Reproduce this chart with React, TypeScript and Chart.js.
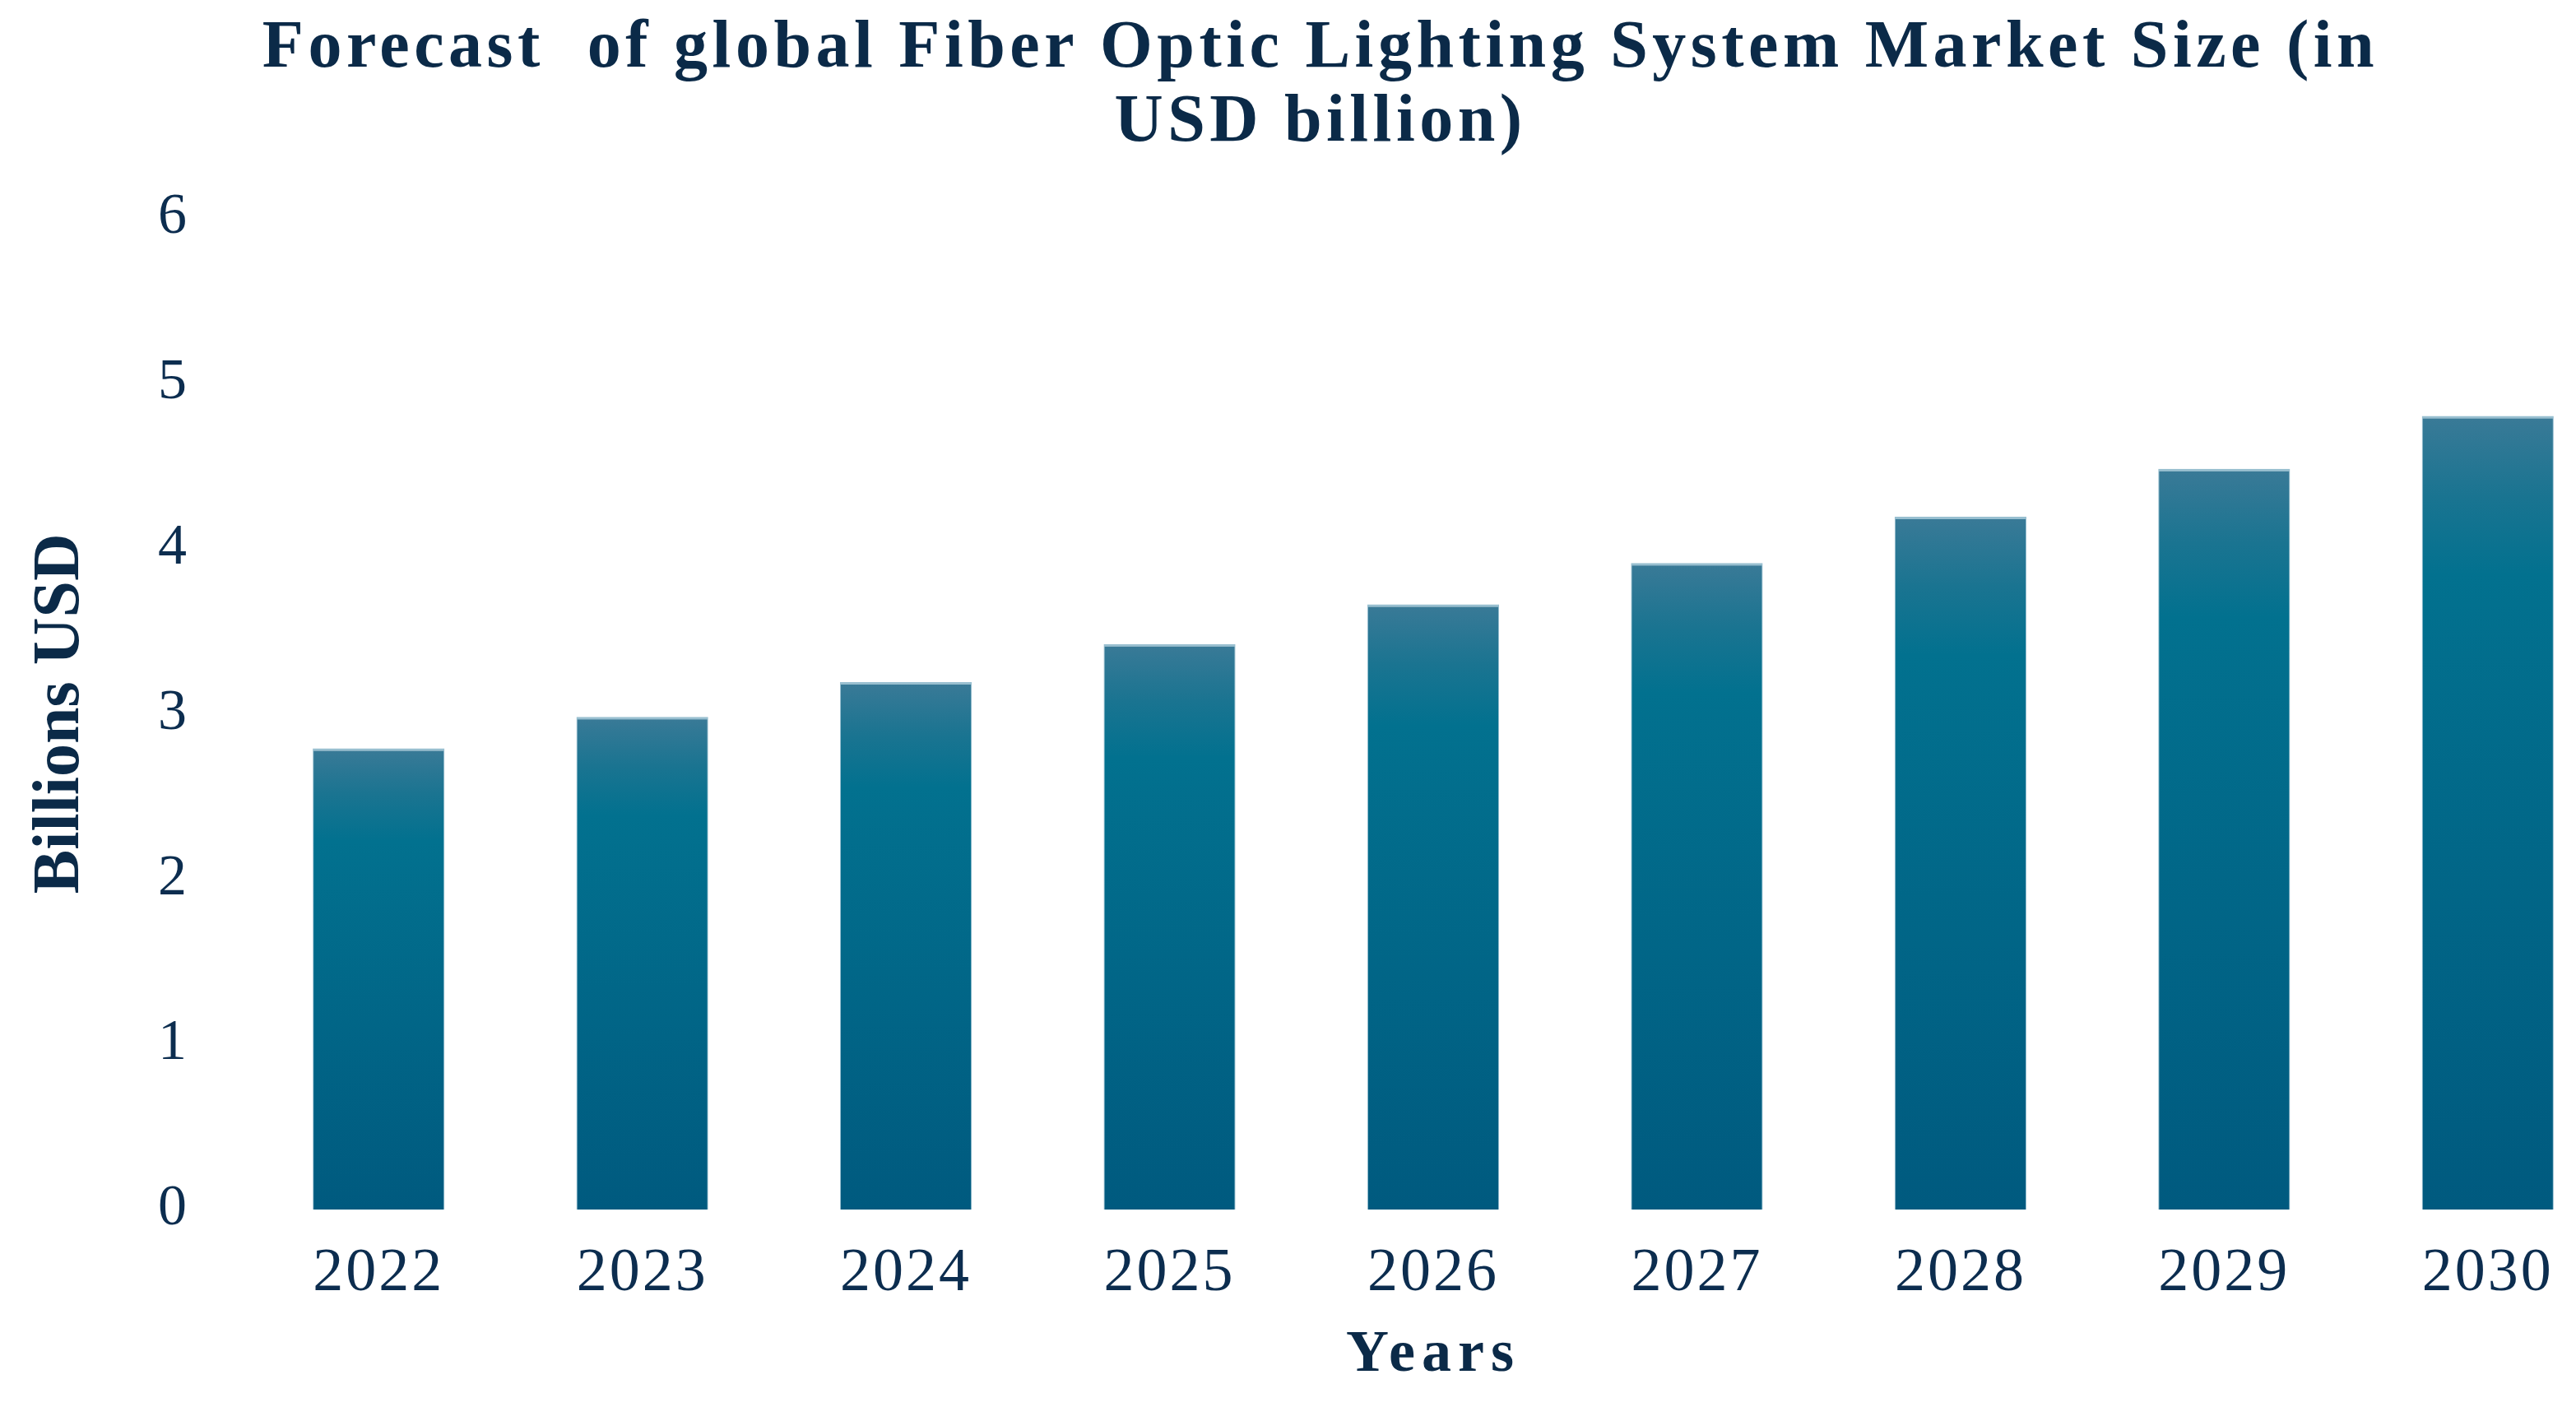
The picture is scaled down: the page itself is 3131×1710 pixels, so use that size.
import React, { useEffect, useRef } from "react";
import { Chart, registerables } from "chart.js";

Chart.register(...registerables);

const years = ["2022", "2023", "2024", "2025", "2026", "2027", "2028", "2029", "2030"];
const marketSize = [2.79, 2.98, 3.19, 3.42, 3.66, 3.91, 4.19, 4.48, 4.8];
const yTicks = [0, 1, 2, 3, 4, 5, 6];
const titleLines = ["Forecast  of global Fiber Optic Lighting System Market Size (in", "USD billion)"];
const xTitle = "Years";
const yTitle = "Billions USD";

const TEXT = "#0c2d4f";
const SERIF = "'Liberation Serif', 'Times New Roman', serif";

const spacingPlugin = {
  id: "letterSpacingWrap",
  afterLayout(chart: any) {
    const wrap = (obj: any, name: string, sp: string) => {
      if (!obj || obj["__wrapped_" + name]) return;
      const orig = obj[name];
      obj[name] = function (...args: any[]) {
        const c = chart.ctx;
        c.save();
        c.letterSpacing = sp;
        const r = orig.apply(this, args);
        c.restore();
        return r;
      };
      obj["__wrapped_" + name] = true;
    };
    wrap(chart.titleBlock, "draw", "5.5px");
    wrap(chart.scales.x, "drawLabels", "3px");
    wrap(chart.scales.x, "drawTitle", "8px");
  },
};

export default function App() {
  const ref = useRef<HTMLCanvasElement | null>(null);

  useEffect(() => {
    document.body.style.margin = "0";
    document.body.style.overflow = "hidden";
    const canvas = ref.current;
    if (!canvas) return;
    const chart = new Chart(canvas, {
      type: "bar",
      data: {
        labels: years,
        datasets: [
          {
            data: marketSize,
            backgroundColor: (ctx: any) => {
              const c = ctx.chart;
              if (!c.chartArea || ctx.type !== "data" || !c.scales.y) return "#00658a";
              const top = c.scales.y.getPixelForValue(ctx.raw);
              const bottom = c.scales.y.getPixelForValue(0);
              const g = c.ctx.createLinearGradient(0, top, 0, bottom);
              g.addColorStop(0, "#3a7a97");
              g.addColorStop(0.1, "#1a7491");
              g.addColorStop(0.2, "#02718f");
              g.addColorStop(1, "#005a7f");
              return g;
            },
            borderColor: "#98bfd0",
            borderWidth: { top: 3, left: 1, right: 1, bottom: 0 },
            borderSkipped: false,
            barPercentage: 0.5,
            categoryPercentage: 1.0,
          },
        ],
      },
      options: {
        animation: false,
        responsive: false,
        maintainAspectRatio: false,
        layout: { padding: { left: 26, right: 16, top: 0, bottom: 19 } },
        plugins: {
          legend: { display: false },
          tooltip: { enabled: false },
          title: {
            display: true,
            text: titleLines,
            color: "#0b2a48",
            font: { family: SERIF, size: 82, weight: "bold", lineHeight: 1.1 },
            padding: { top: 15, bottom: 69 },
          },
        },
        scales: {
          x: {
            afterFit: (scale: any) => {
              scale.height = 221;
            },
            grid: { display: false, drawTicks: false, tickLength: 0 },
            border: { display: false },
            ticks: {
              color: TEXT,
              font: { family: SERIF, size: 74, lineHeight: 1.2 },
              padding: 34,
              maxRotation: 0,
            },
            title: {
              display: true,
              text: xTitle,
              color: "#0b2a48",
              font: { family: SERIF, size: 72, weight: "bold", lineHeight: 1.2 },
              padding: { top: 16, bottom: 0 },
            },
          },
          y: {
            min: 0,
            max: 6,
            afterFit: (scale: any) => {
              scale.width = 274;
            },
            afterBuildTicks: (scale: any) => {
              scale.ticks = yTicks.map((v) => ({ value: v }));
            },
            grid: { display: false, drawTicks: false, tickLength: 0 },
            border: { display: false },
            ticks: {
              color: TEXT,
              font: { family: SERIF, size: 70, lineHeight: 1.2 },
              padding: 73,
            },
            title: {
              display: true,
              text: yTitle,
              color: "#0b2a48",
              font: { family: SERIF, size: 80, weight: "bold", lineHeight: 1.2 },
              padding: { top: 0, bottom: 70 },
            },
          },
        },
      },
      plugins: [spacingPlugin],
    });
    chart.draw();
    return () => chart.destroy();
  }, []);

  return (
    <div style={{ position: "fixed", left: 0, top: 0, width: 3131, height: 1710, overflow: "hidden", background: "#ffffff" }}>
      <canvas ref={ref} width={3200} height={1710} style={{ display: "block", width: 3200, height: 1710 }} />
    </div>
  );
}
